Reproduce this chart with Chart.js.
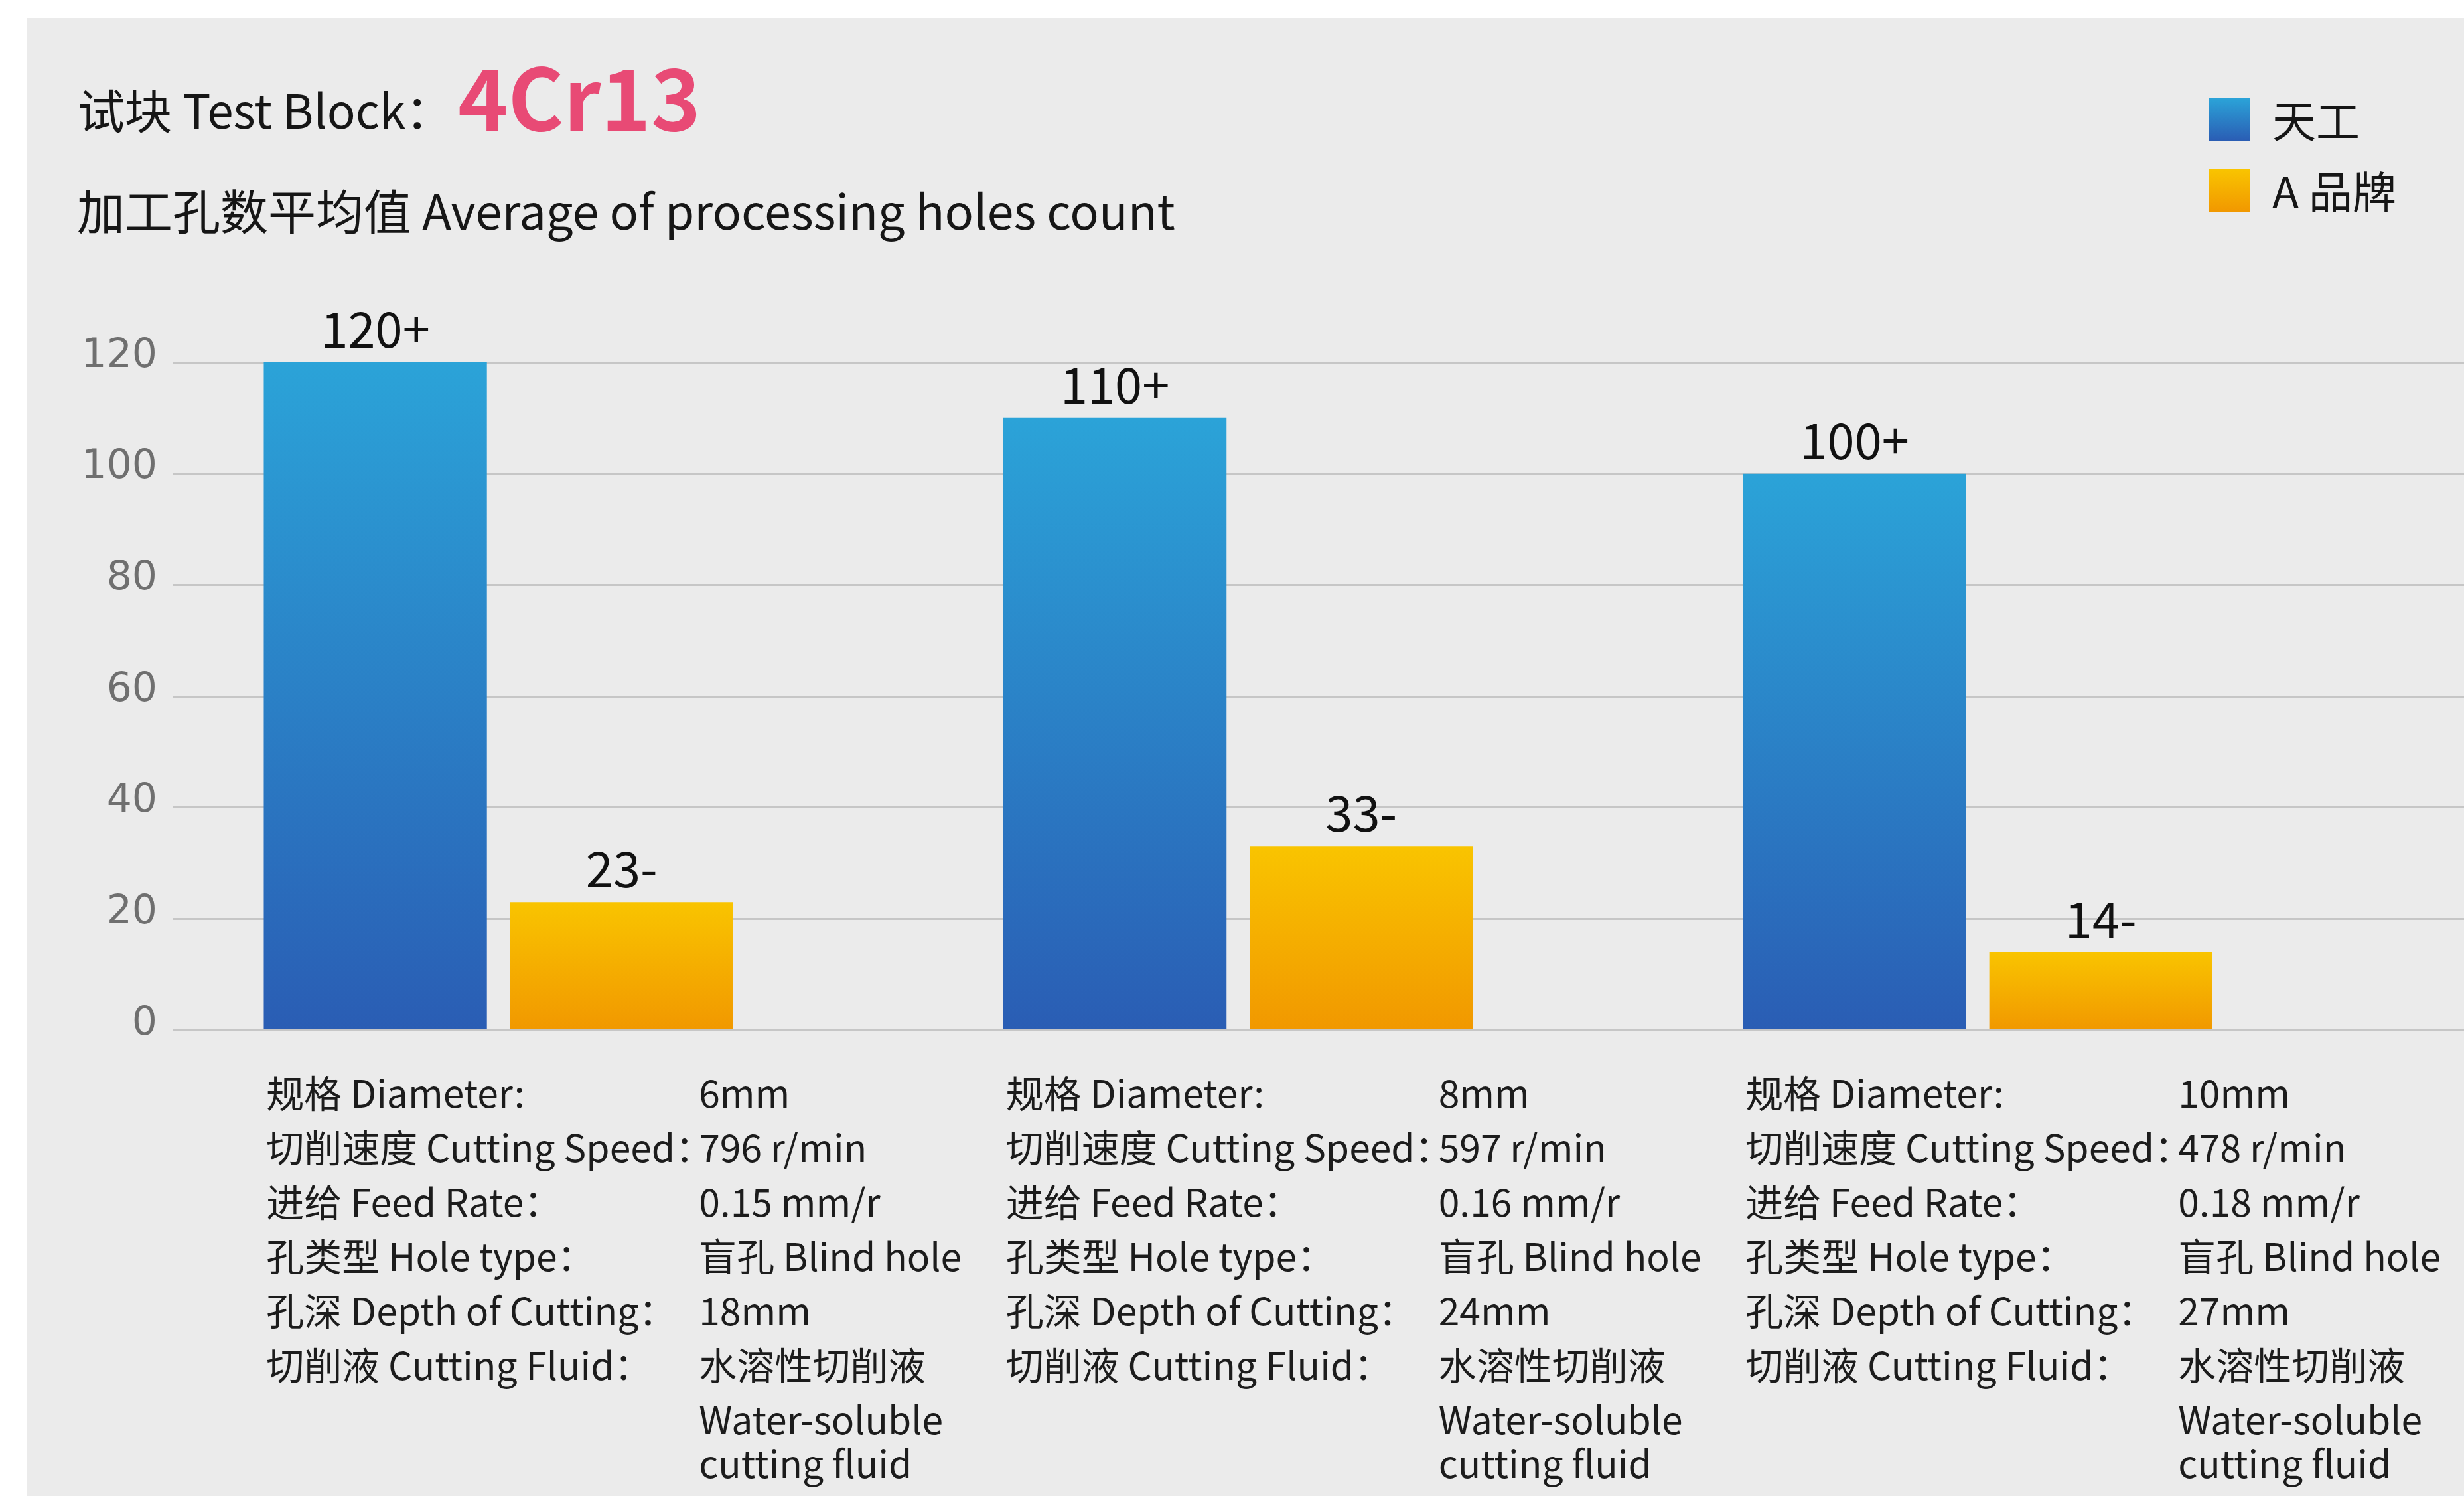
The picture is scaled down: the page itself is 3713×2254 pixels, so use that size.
<!DOCTYPE html>
<html>
<head>
<meta charset="utf-8">
<script src="https://cdn.jsdelivr.net/npm/chart.js@4.4.1/dist/chart.umd.min.js"></script>
<style>
  html, body { margin: 0; padding: 0; background: #ffffff; }
  #wrap { position: relative; width: 3713px; height: 2254px; }
</style>
</head>
<body>
<div id="wrap"><canvas id="chart"></canvas></div>
<script>
// ---- data ----
const groups = [0, 1, 2]; // 6mm / 8mm / 10mm test groups
const brands = ["天工", "A 品牌"];
const tiangong = [120, 110, 100];
const brandA = [23, 33, 14];
const valueSuffix = ["+", "-"];
const yTicks = [0, 20, 40, 60, 80, 100, 120];

const titleText = "试块 Test Block：";
const materialText = "4Cr13";
const subtitleText = "加工孔数平均值 Average of processing holes count";

const specLabels = [
  "规格 Diameter:",
  "切削速度 Cutting Speed：",
  "进给 Feed Rate：",
  "孔类型 Hole type：",
  "孔深 Depth of Cutting：",
  "切削液 Cutting Fluid："
];
const diameters = ["6mm", "8mm", "10mm"];
const speeds = ["796 r/min", "597 r/min", "478 r/min"];
const feeds = ["0.15 mm/r", "0.16 mm/r", "0.18 mm/r"];
const holeTypes = ["盲孔 Blind hole", "盲孔 Blind hole", "盲孔 Blind hole"];
const depths = ["18mm", "24mm", "27mm"];
const fluids = [
  ["水溶性切削液", "Water-soluble", "cutting fluid"],
  ["水溶性切削液", "Water-soluble", "cutting fluid"],
  ["水溶性切削液", "Water-soluble", "cutting fluid"]
];

// ---- styles ----
const CJK = '"Noto Sans CJK SC", "Noto Sans", sans-serif';
const blueStops = ["#2ba3d8", "#2a5db4"];
const orangeStops = ["#f9c400", "#f19800"];

function barGradient(ctx, stops) {
  const chart = ctx.chart;
  const y = chart.scales.y;
  if (ctx.type !== "data" || !y || !chart.chartArea) return stops[1];
  const top = y.getPixelForValue(ctx.parsed.y);
  const bottom = y.getPixelForValue(0);
  const g = chart.ctx.createLinearGradient(0, top, 0, bottom);
  g.addColorStop(0, stops[0]);
  g.addColorStop(1, stops[1]);
  return g;
}

// panel background
const panelPlugin = {
  id: "panel",
  beforeDraw(chart) {
    const c = chart.ctx;
    c.save();
    c.fillStyle = "#ebebeb";
    c.fillRect(40, 27, chart.width - 40, chart.height - 27);
    c.restore();
  }
};

// numbers above bars
const valueLabels = {
  id: "valueLabels",
  afterDatasetsDraw(chart) {
    const c = chart.ctx;
    c.save();
    c.font = "74px " + CJK;
    c.fillStyle = "#111";
    c.textAlign = "center";
    c.textBaseline = "alphabetic";
    chart.data.datasets.forEach((ds, di) => {
      chart.getDatasetMeta(di).data.forEach((bar, i) => {
        c.fillText(ds.data[i].y + valueSuffix[di], bar.x, bar.y - 22);
      });
    });
    c.restore();
  }
};

// titles, legend and test conditions
const textPlugin = {
  id: "texts",
  afterDraw(chart) {
    const c = chart.ctx;
    c.save();
    c.textAlign = "left";
    c.textBaseline = "alphabetic";
    c.fillStyle = "#161616";
    c.font = "71px " + CJK;
    c.fillText(titleText, 117, 194);
    c.fillStyle = "#e84a75";
    c.font = "bold 128px " + CJK;
    c.fillText(materialText, 690, 197);
    c.fillStyle = "#161616";
    c.font = "72px " + CJK;
    c.fillText(subtitleText, 116, 346);

    // legend
    c.textBaseline = "middle";
    c.font = "66px " + CJK;
    [blueStops, orangeStops].forEach((stops, i) => {
      const cy = 180 + i * 107;
      const g = c.createLinearGradient(0, cy - 32, 0, cy + 32);
      g.addColorStop(0, stops[0]);
      g.addColorStop(1, stops[1]);
      c.fillStyle = g;
      c.fillRect(3328, cy - 32, 63, 64);
      c.fillStyle = "#161616";
      c.fillText(brands[i], 3424, cy + 2);
    });

    // test condition blocks
    const xs = chart.scales.x;
    c.font = "57px " + CJK;
    c.fillStyle = "#1c1c1c";
    groups.forEach((g, i) => {
      const cx = xs.getPixelForValue(g);
      const lx = cx - 350;
      const vx = cx + 302;
      const values = [diameters[i], speeds[i], feeds[i], holeTypes[i], depths[i]];
      specLabels.forEach((label, r) => {
        const y = 1647 + r * 82;
        c.fillText(label, lx, y);
        if (r < values.length) c.fillText(values[r], vx, y);
      });
      const fy = 1647 + 5 * 82;
      c.fillText(fluids[i][0], vx, fy);
      c.fillText(fluids[i][1], vx, fy + 82);
      c.fillText(fluids[i][2], vx, fy + 82 + 66);
    });
    c.restore();
  }
};

new Chart(document.getElementById("chart"), {
  type: "bar",
  data: {
    datasets: [
      {
        label: brands[0],
        data: groups.map((g, i) => ({ x: g, y: tiangong[i] })),
        backgroundColor: (ctx) => barGradient(ctx, blueStops)
      },
      {
        label: brands[1],
        data: groups.map((g, i) => ({ x: g, y: brandA[i] })),
        backgroundColor: (ctx) => barGradient(ctx, orangeStops)
      }
    ]
  },
  options: {
    responsive: true,
    maintainAspectRatio: false,
    animation: false,
    categoryPercentage: 0.666,
    barPercentage: 0.906,
    layout: { padding: { top: 546, bottom: 702, left: 0, right: 0 } },
    plugins: {
      legend: { display: false },
      title: { display: false },
      tooltip: { enabled: false }
    },
    scales: {
      x: {
        type: "linear",
        display: false,
        offset: false,
        bounds: "data",
        min: -0.4407,
        max: 2.6575,
        afterBuildTicks(scale) {
          scale.ticks = groups.map((v) => ({ value: v }));
        },
        grid: { display: false, offset: false }
      },
      y: {
        min: yTicks[0],
        max: yTicks[yTicks.length - 1],
        afterBuildTicks(scale) {
          scale.ticks = yTicks.map((v) => ({ value: v }));
        },
        afterFit(scale) {
          scale.width = 260;
        },
        ticks: {
          padding: 23,
          labelOffset: -9,
          color: "#6f6f6f",
          font: { family: "DejaVu Sans", size: 60 }
        },
        grid: { color: "#c6c6c6", lineWidth: 3, drawTicks: false },
        border: { display: false }
      }
    }
  },
  plugins: [panelPlugin, valueLabels, textPlugin]
});
</script>
</body>
</html>
